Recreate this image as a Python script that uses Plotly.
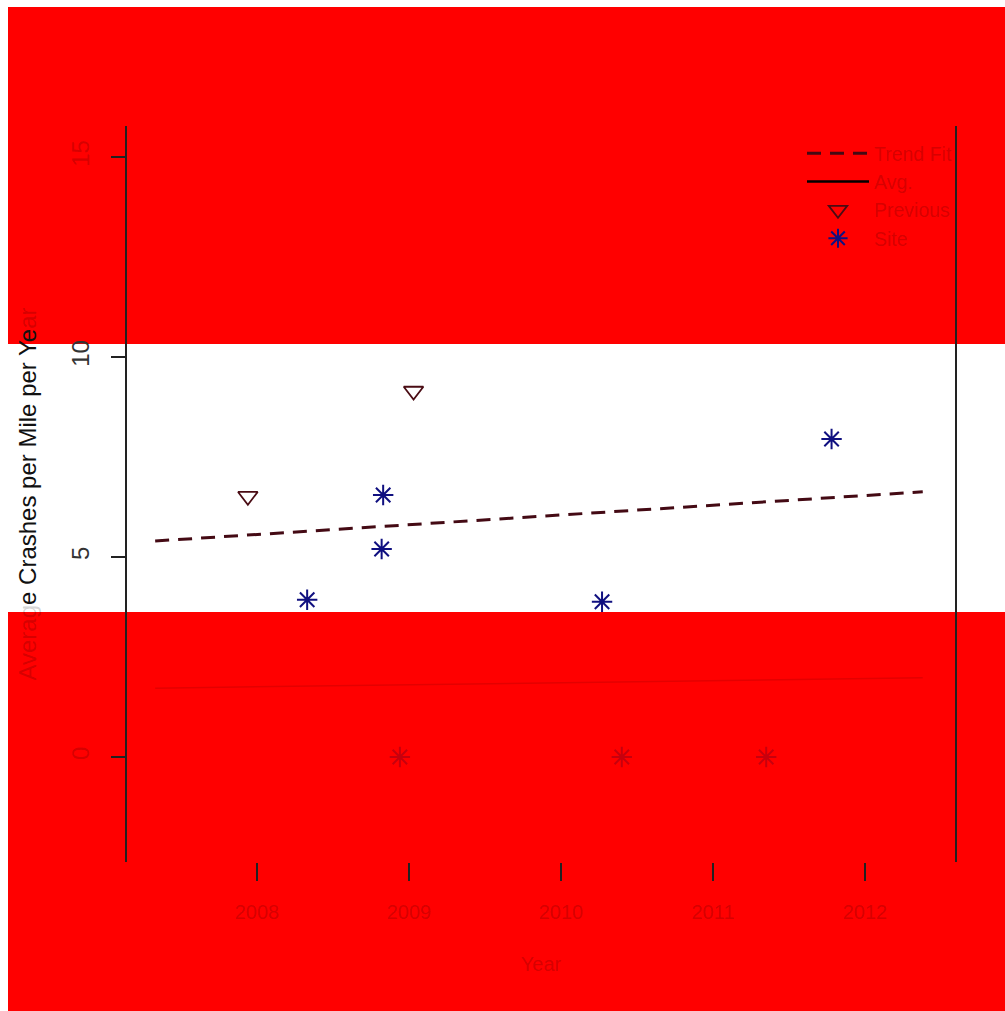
import plotly.graph_objects as go

# ---------------- data ----------------
year_ticks = [2008, 2009, 2010, 2011, 2012]
year_labels = ["2008", "2009", "2010", "2011", "2012"]

site_x = [2008.33, 2008.83, 2008.82, 2010.27, 2011.78, 2008.94, 2010.40, 2011.35]
site_y = [3.93, 6.55, 5.20, 3.88, 7.95, 0.0, 0.0, 0.0]

prior_x = [2007.94, 2009.03]
prior_y = [6.52, 9.15]

trend_x = [2007.33, 2012.38]
trend_y = [5.40, 6.63]

state_x = [2007.33, 2012.38]
state_y = [1.72, 1.98]

y_ticks = [0, 5, 10, 15]

legend_names = ["Trend Fit", "Avg.", "Previous", "Site"]

# ---------------- styles ----------------
FAINT = "rgba(0,0,0,0.18)"
RED = "#ff0000"
FONT = "Liberation Sans, Arial, Helvetica, sans-serif"

def faint(t):
    return "<span style='color:%s'>%s</span>" % (FAINT, t)

# visible band (data units) is roughly 3.6 .. 10.3
site_colors = ["#101080" if 3.5 < v < 10.4 else "rgba(0,0,60,0.22)" for v in site_y]

fig = go.Figure()

fig.add_trace(go.Scatter(
    x=state_x, y=state_y, mode="lines",
    line=dict(color="#e40000", width=1.5), showlegend=False, hoverinfo="skip"))

fig.add_trace(go.Scatter(
    x=trend_x, y=trend_y, mode="lines", name=legend_names[0],
    line=dict(color="#440a14", width=3, dash="14px,9px")))

fig.add_trace(go.Scatter(
    x=[None], y=[None], mode="lines", name=legend_names[1],
    line=dict(color="#000000", width=2.5)))

fig.add_trace(go.Scatter(
    x=prior_x, y=prior_y, mode="markers", name=legend_names[2],
    marker=dict(symbol="triangle-down-open", size=17, color="#4a0c14",
                line=dict(width=1.8, color="#4a0c14"))))

fig.add_trace(go.Scatter(
    x=site_x, y=site_y, mode="markers", name=legend_names[3],
    marker=dict(symbol="asterisk-open", size=17, color=site_colors,
                line=dict(width=2, color=site_colors))))

# pixel -> paper helpers for background bands
L, R_, T, B = 127, 955, 126, 862
def px(p):
    return (p - L) / (R_ - L)
def py(p):
    return (B - p) / (B - T)

shapes = [
    dict(type="rect", xref="paper", yref="paper", x0=px(8), x1=px(1010),
         y0=py(344), y1=py(7), fillcolor=RED, line=dict(width=0), layer="below"),
    dict(type="rect", xref="paper", yref="paper", x0=px(8), x1=px(1010),
         y0=py(1015), y1=py(612), fillcolor=RED, line=dict(width=0), layer="below"),
]

px_per_year = 152.0
x0 = 2008 + (L - 257) / px_per_year
x1 = 2008 + (R_ - 257) / px_per_year
y_top = (757 - T) / 40.0
y_bot = (757 - B) / 40.0

ytext = [faint("0"), "5", "10", faint("15")]

fig.update_layout(
    width=1005, height=1011, autosize=False,
    margin=dict(l=L, r=1005 - R_, t=T, b=1011 - B, pad=0),
    paper_bgcolor="white", plot_bgcolor="rgba(0,0,0,0)",
    font=dict(family=FONT, size=20, color="#111"),
    shapes=shapes,
    showlegend=True,
    legend=dict(x=px(802), xanchor="left", y=py(134), yanchor="top",
                bgcolor="rgba(0,0,0,0)", borderwidth=0,
                font=dict(size=19.5, color=FAINT, family=FONT),
                itemwidth=62),
    xaxis=dict(range=[x0, x1], showgrid=False, zeroline=False, showline=False,
               ticks="outside", ticklen=18, tickwidth=1.5, tickcolor="#222",
               tickvals=year_ticks, ticktext=[faint(t) for t in year_labels],
               ticklabelstandoff=14,
               title=dict(text=faint("Year"), standoff=34, font=dict(size=20))),
    yaxis=dict(range=[y_bot, y_top], showgrid=False, zeroline=False,
               showline=True, linecolor="#222", linewidth=2, mirror=True,
               ticks="outside", ticklen=14, tickwidth=2, tickcolor="#222",
               tickvals=y_ticks, ticktext=ytext, tickangle=-90,
               ticklabelstandoff=12, tickfont=dict(size=24, color="#333"),
               title=dict(text=faint("Averag") + "e Crashes per Mile per Ye" + faint("ar"),
                          standoff=24, font=dict(size=24, color="#111"))),
)

fig.write_html("out.html")
